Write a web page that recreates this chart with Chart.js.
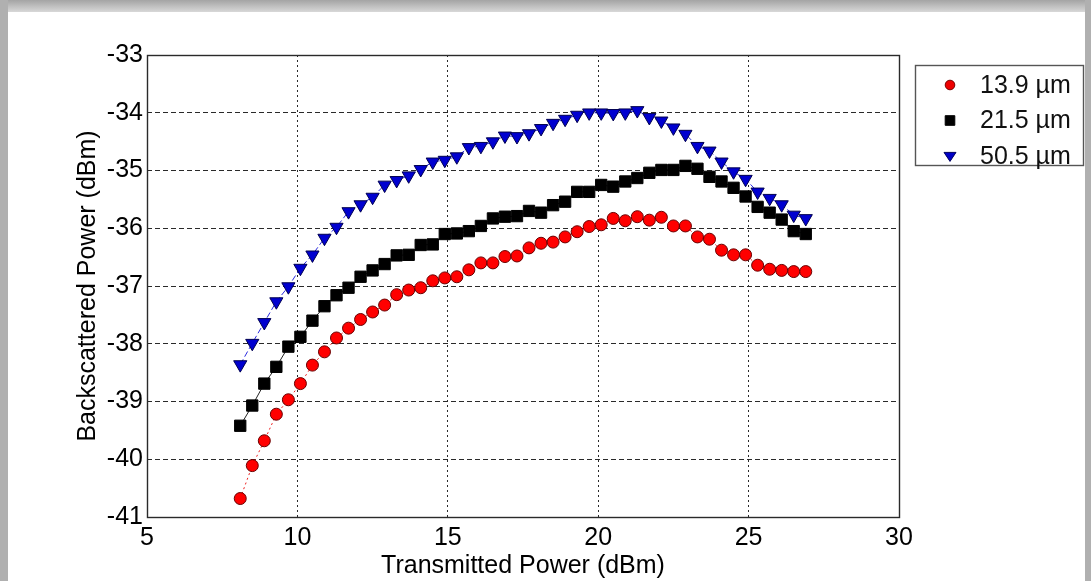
<!DOCTYPE html>
<html>
<head>
<meta charset="utf-8">
<script src="https://cdn.jsdelivr.net/npm/chart.js@4.4.1/dist/chart.umd.min.js"></script>
<style>
html,body{margin:0;padding:0;background:#fff;}
#wrap{width:1091px;height:581px;position:relative;overflow:hidden;}
</style>
</head>
<body>
<div id="wrap"><canvas id="c" width="1091" height="581"></canvas></div>
<script>
// ---- data ----
const transmittedPower = [8.1, 8.5, 8.9, 9.3, 9.7, 10.1, 10.5, 10.9, 11.3, 11.7, 12.1, 12.5, 12.9, 13.3, 13.7, 14.1,
  14.5, 14.9, 15.3, 15.7, 16.1, 16.5, 16.9, 17.3, 17.7, 18.1, 18.5, 18.9, 19.3, 19.7, 20.1, 20.5,
  20.9, 21.3, 21.7, 22.1, 22.5, 22.9, 23.3, 23.7, 24.1, 24.5, 24.9, 25.3, 25.7, 26.1, 26.5, 26.9];

const backscatter13_9 = [-40.68, -40.11, -39.68, -39.22, -38.97, -38.69, -38.37, -38.14, -37.90, -37.73, -37.58, -37.45, -37.33, -37.15, -37.07, -37.03,
  -36.91, -36.86, -36.84, -36.72, -36.60, -36.60, -36.49, -36.48, -36.34, -36.26, -36.24, -36.15, -36.06, -35.97, -35.94, -35.83,
  -35.87, -35.80, -35.86, -35.81, -35.96, -35.96, -36.15, -36.19, -36.38, -36.46, -36.46, -36.64, -36.71, -36.73, -36.75, -36.75];

const backscatter21_5 = [-39.42, -39.07, -38.69, -38.40, -38.05, -37.88, -37.60, -37.35, -37.16, -37.03, -36.84, -36.73, -36.62, -36.47, -36.46, -36.29,
  -36.28, -36.10, -36.09, -36.05, -35.96, -35.83, -35.80, -35.79, -35.70, -35.73, -35.60, -35.54, -35.37, -35.37, -35.25, -35.28,
  -35.19, -35.13, -35.04, -34.99, -34.99, -34.92, -34.97, -35.11, -35.19, -35.30, -35.45, -35.63, -35.73, -35.85, -36.05, -36.10];

const backscatter50_5 = [-38.36, -37.99, -37.63, -37.27, -37.01, -36.69, -36.46, -36.17, -35.98, -35.71, -35.59, -35.46, -35.25, -35.17, -35.09, -34.98,
  -34.85, -34.82, -34.76, -34.60, -34.58, -34.50, -34.40, -34.41, -34.36, -34.27, -34.18, -34.11, -34.04, -34.00, -34.00, -34.01,
  -34.00, -33.96, -34.08, -34.14, -34.26, -34.37, -34.58, -34.66, -34.85, -35.02, -35.15, -35.37, -35.48, -35.59, -35.77, -35.83];

const seriesLabels = ['13.9 µm', '21.5 µm', '50.5 µm'];
const xTickValues = [5, 10, 15, 20, 25, 30];
const yTickValues = [-41, -40, -39, -38, -37, -36, -35, -34, -33];
const xTitle = 'Transmitted Power (dBm)';
const yTitle = 'Backscattered Power (dBm)';

// ---- chart ----
const FONT = '"Liberation Sans", Arial, Helvetica, sans-serif';
const toPoints = ys => ys.map((y, i) => ({x: transmittedPower[i], y: y}));

const pageFrame = {
  id: 'pageFrame',
  beforeDraw(chart) {
    const ctx = chart.ctx, W = chart.width, H = chart.height;
    ctx.save();
    ctx.fillStyle = '#ffffff';
    ctx.fillRect(0, 0, W, H);
    const g = ctx.createLinearGradient(0, 0, 0, 12);
    g.addColorStop(0, '#a4a4a4');
    g.addColorStop(1, '#d8d8d8');
    ctx.fillStyle = g;
    ctx.fillRect(0, 0, W, 12);
    ctx.fillStyle = '#b0b0b0';
    ctx.fillRect(0, 0, 8, H);
    ctx.fillRect(W - 6, 0, 6, H);
    ctx.restore();
  },
  beforeDatasetsDraw(chart) {
    const a = chart.chartArea, ctx = chart.ctx;
    ctx.save();
    ctx.strokeStyle = '#2a2a2a';
    ctx.lineWidth = 1.4;
    ctx.strokeRect(Math.round(a.left) + 0.5, Math.round(a.top) + 0.5,
      Math.round(a.right - a.left), Math.round(a.bottom - a.top));
    ctx.restore();
  }
};

function drawMarker(ctx, style, x, y, r, fill, stroke) {
  ctx.save();
  ctx.fillStyle = fill; ctx.strokeStyle = stroke; ctx.lineWidth = 1;
  ctx.beginPath();
  if (style === 'circle') {
    ctx.arc(x, y, r, 0, Math.PI * 2);
  } else if (style === 'rect') {
    ctx.rect(x - r, y - r, 2 * r, 2 * r);
  } else {
    ctx.moveTo(x - r, y - r * 0.6);
    ctx.lineTo(x + r, y - r * 0.6);
    ctx.lineTo(x, y + r * 0.9);
    ctx.closePath();
  }
  ctx.fill(); ctx.stroke();
  ctx.restore();
}

const boxLegend = {
  id: 'boxLegend',
  afterDraw(chart) {
    const ctx = chart.ctx;
    const bx = 915, by = 65, bw = 168, bh = 100;
    ctx.save();
    ctx.fillStyle = '#fff';
    ctx.fillRect(bx, by, bw, bh);
    ctx.strokeStyle = '#555';
    ctx.lineWidth = 1.4;
    ctx.strokeRect(bx + 0.5, by + 0.5, bw, bh);
    const styles = [['circle', 4.8, '#ee0000', '#7a0000'], ['rect', 4.8, '#000', '#000'], ['tri', 6, '#0000c8', '#000060']];
    chart.data.datasets.forEach((ds, i) => {
      const y = 85 + i * 35.5;
      const s = styles[i];
      drawMarker(ctx, s[0], 950, y, s[1], s[2], s[3]);
      ctx.fillStyle = '#111';
      ctx.font = '25px ' + FONT;
      ctx.textBaseline = 'middle';
      ctx.textAlign = 'left';
      ctx.fillText(ds.label, 980, y + 1);
    });
    ctx.restore();
  }
};

new Chart(document.getElementById('c'), {
  type: 'scatter',
  data: {
    datasets: [
      {
        label: seriesLabels[0],
        data: toPoints(backscatter13_9),
        showLine: true,
        borderColor: '#ee2020',
        borderWidth: 1,
        borderDash: [2, 3],
        pointStyle: 'circle',
        pointRadius: 6,
        pointBackgroundColor: '#ff0000',
        pointBorderColor: '#6a0000',
        pointBorderWidth: 1
      },
      {
        label: seriesLabels[1],
        data: toPoints(backscatter21_5),
        showLine: true,
        borderColor: '#222',
        borderWidth: 1,
        pointStyle: 'rect',
        pointRadius: 8,
        pointBackgroundColor: '#000',
        pointBorderColor: '#000',
        pointBorderWidth: 1
      },
      {
        label: seriesLabels[2],
        data: toPoints(backscatter50_5),
        showLine: true,
        borderColor: '#2a2ae0',
        borderWidth: 1,
        borderDash: [6, 3],
        pointStyle: 'triangle',
        pointRotation: 180,
        pointRadius: 7.6,
        pointBackgroundColor: '#0000d0',
        pointBorderColor: '#000050',
        pointBorderWidth: 1
      }
    ]
  },
  options: {
    responsive: false,
    animation: false,
    devicePixelRatio: 1,
    layout: {padding: {left: 60, top: 55, right: 192, bottom: 0}},
    plugins: {legend: {display: false}, tooltip: {enabled: false}},
    scales: {
      x: {
        type: 'linear', min: 5, max: 30,
        afterFit(scale) { scale.height = 64; },
        afterBuildTicks(scale) { scale.ticks = xTickValues.map(v => ({value: v})); },
        ticks: {color: '#000', font: {family: FONT, size: 25}, padding: 6, maxRotation: 0, autoSkip: false},
        grid: {color: '#2a2a2a', lineWidth: 1, drawTicks: false},
        border: {display: false, dash: [2, 3]},
        title: {display: true, text: xTitle, color: '#000', font: {family: FONT, size: 25}, padding: {top: 0, bottom: 0}}
      },
      y: {
        type: 'linear', min: -41, max: -33,
        afterFit(scale) { scale.width = 87; },
        afterBuildTicks(scale) { scale.ticks = yTickValues.map(v => ({value: v})); },
        ticks: {color: '#000', font: {family: FONT, size: 25}, padding: 4, autoSkip: false},
        grid: {color: '#2a2a2a', lineWidth: 1, drawTicks: false},
        border: {display: false, dash: [5, 3]},
        title: {display: true, text: yTitle, color: '#000', font: {family: FONT, size: 25}, padding: {top: 13, bottom: 0}}
      }
    }
  },
  plugins: [pageFrame, boxLegend]
});
</script>
</body>
</html>
